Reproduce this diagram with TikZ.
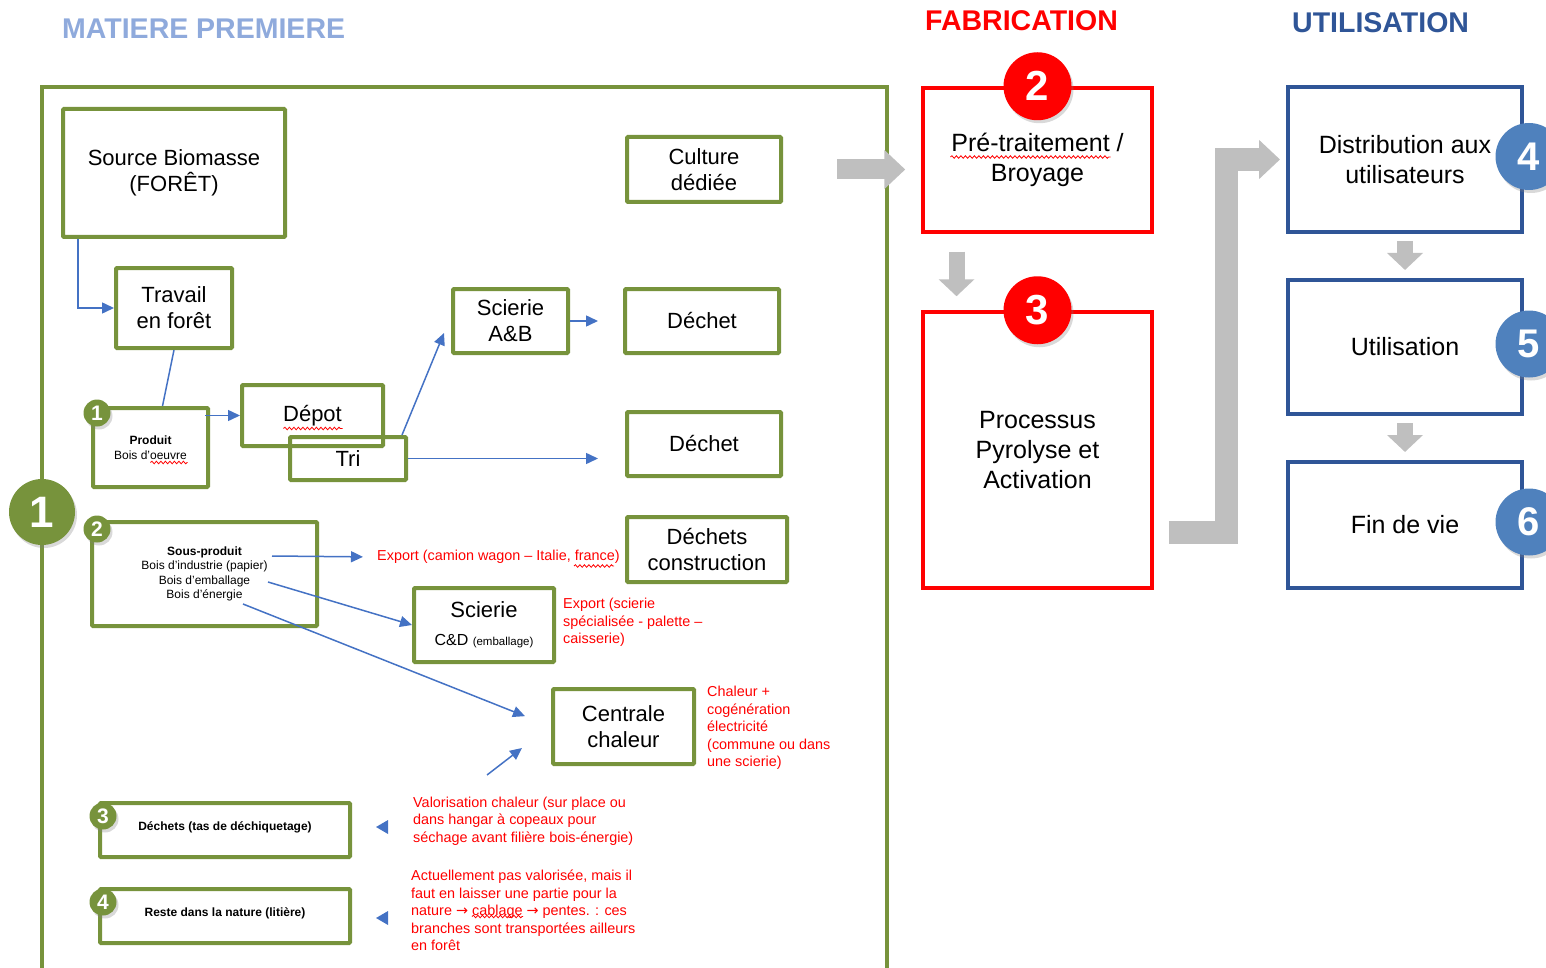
\documentclass[tikz,border=0pt]{standalone}
\usepackage{fontspec}
\setmainfont{Liberation Sans}
\newfontfamily\arrowfont{DejaVu Sans}
\usepackage{xcolor}
\usetikzlibrary{arrows.meta,shapes.geometric,shadows,positioning,decorations.pathmorphing}

\definecolor{woodgreen}{RGB}{119,147,60}
\definecolor{flowblue}{RGB}{68,114,196}
\definecolor{usered}{RGB}{255,0,0}
\definecolor{usenavy}{RGB}{47,85,151}
\definecolor{usesky}{RGB}{79,129,189}
\definecolor{headsky}{RGB}{143,170,220}
\definecolor{arrowgrey}{RGB}{191,191,191}

\begin{document}
\begin{tikzpicture}[
            x=1pt, y=-1pt,
            green box/.style={
                    draw=woodgreen,
                    line width=4pt,
                    rounded corners=1pt,
                    inner sep=0pt,
                    align=center,
                    font=\fontsize{22}{26}\selectfont
                },
            red box/.style={
                    draw=usered,
                    line width=3.5pt,
                    inner sep=0pt,
                    minimum width=229pt,
                    align=center,
                    font=\fontsize{25}{30}\selectfont
                },
            blue box/.style={
                    draw=usenavy,
                    line width=4pt,
                    inner sep=0pt,
                    minimum width=234pt,
                    align=center,
                    font=\fontsize{25}{30}\selectfont
                },
            number disc/.style={
                    circle,
                    inner sep=0pt,
                    text=white,
                    drop shadow={shadow xshift=2pt, shadow yshift=-3pt, opacity=0.3}
                },
            red number/.style={
                    number disc,
                    fill=usered,
                    minimum size=68pt,
                    font=\bfseries\fontsize{42}{42}\selectfont
                },
            blue number/.style={
                    number disc,
                    fill=usesky,
                    minimum size=67pt,
                    font=\bfseries\fontsize{40}{40}\selectfont
                },
            green number/.style={
                    number disc,
                    fill=woodgreen,
                    minimum size=66pt,
                    font=\bfseries\fontsize{44}{44}\selectfont
                },
            small number/.style={
                    number disc,
                    fill=woodgreen,
                    minimum size=27pt,
                    font=\bfseries\fontsize{21}{21}\selectfont
                },
            flow/.style={
                    draw=flowblue,
                    line width=1.5pt,
                    -{Triangle[width=11pt,length=12pt]}
                },
            link/.style={
                    draw=flowblue,
                    line width=1.5pt
                },
            left head/.style={
                    isosceles triangle,
                    isosceles triangle stretches,
                    shape border rotate=180,
                    fill=flowblue,
                    inner sep=0pt,
                    minimum height=12pt,
                    minimum width=14pt
                },
            grey arrow/.style={
                    draw=arrowgrey,
                    line width=20pt,
                    -{Triangle[width=38pt,length=21pt]}
                },
            grey arrow small/.style={
                    draw=arrowgrey,
                    line width=16pt,
                    -{Triangle[width=35pt,length=17pt]}
                },
            side note/.style={
                    text=usered,
                    anchor=west,
                    align=left,
                    inner sep=0pt,
                    font=\fontsize{14.4}{17.4}\selectfont
                },
            panel title/.style={
                    anchor=west,
                    inner sep=0pt,
                    font=\bfseries\fontsize{28.5}{28.5}\selectfont
                },
            spell mark/.style={
                    draw=red,
                    line width=0.8pt,
                    decorate,
                    decoration={snake, amplitude=1.3pt, segment length=4.5pt}
                }
        ]
        \useasboundingbox (0,0) rectangle (1546,968);

        % Titles
        \node[panel title, text=headsky] (t-mat) at (62,29) {MATIERE PREMIERE};
        \node[panel title, text=usered] (t-fab) at (925,21) {FABRICATION};
        \node[panel title, text=usenavy] (t-use) at (1292,23) {UTILISATION};

        % Raw material frame
        \draw[woodgreen, line width=3.5pt] (42,87) rectangle (887,990);

        % Raw material boxes
        \node[green box, minimum width=222pt, minimum height=128pt] (src) at (174,173) {Source Biomasse\\(FORÊT)};
        \node[green box, minimum width=116pt, minimum height=80pt] (trav) at (174,308) {Travail\\en forêt};
        \node[green box, minimum width=154pt, minimum height=65pt] (cult) at (704,169.5) {Culture\\dédiée};
        \node[green box, minimum width=115pt, minimum height=64pt] (sab) at (510.5,321) {Scierie\\A\&B};
        \node[green box, minimum width=154pt, minimum height=64pt] (dech1) at (702,321) {Déchet};
        \node[green box, minimum width=154pt, minimum height=64pt] (dech2) at (704,444) {Déchet};
        \node[green box, minimum width=141pt, minimum height=61pt] (dep) at (312.5,415.5) {Dépot};
        \node[green box, minimum width=116pt, minimum height=43pt] (tri) at (348,458.5) {Tri};
        \node[green box, minimum width=115pt, minimum height=79pt, font=\fontsize{12}{15}\selectfont] (prod) at (150.5,447.5) {\textbf{Produit}\\Bois d’oeuvre};
        \node[green box, minimum width=225pt, minimum height=104pt, font=\fontsize{12}{14.3}\selectfont] (sp) at (204.5,574) {\textbf{Sous-produit}\\Bois d’industrie (papier)\\Bois d’emballage\\Bois d’énergie};
        \node[green box, minimum width=160pt, minimum height=65pt] (dc) at (707,549.5) {Déchets\\construction};
        \node[green box, minimum width=140pt, minimum height=74pt, font=\fontsize{22}{28}\selectfont] (scd) at (484,625) {Scierie\\{\fontsize{16}{20}\selectfont C\&D \fontsize{11.5}{14}\selectfont(emballage)}};
        \node[green box, minimum width=141pt, minimum height=75pt] (cc) at (623.5,726.5) {Centrale\\chaleur};
        \node[green box, minimum width=250pt, minimum height=54pt, font=\bfseries\fontsize{12}{14}\selectfont] (dtas) at (225,830) {\raisebox{7pt}{Déchets (tas de déchiquetage)}};
        \node[green box, minimum width=250pt, minimum height=54pt, font=\bfseries\fontsize{12}{14}\selectfont] (reste) at (225,916) {\raisebox{7pt}{Reste dans la nature (litière)}};

        % Red notes
        \node[side note] (exp1) at (377,557) {Export (camion wagon – Italie, france)};
        \node[side note] (exp2) at (563,622.5) {Export (scierie\\spécialisée - palette –\\caisserie)};
        \node[side note] (chal) at (707,728) {Chaleur +\\cogénération\\électricité\\(commune ou dans\\une scierie)};
        \node[side note] (valo) at (413,821) {Valorisation chaleur (sur place ou\\dans hangar à copeaux pour\\séchage avant filière bois-énergie)};
        \node[side note] (act) at (411,910.5) {Actuellement pas valorisée, mais il\\faut en laisser une partie pour la\\nature {\arrowfont →} cablage {\arrowfont →} pentes. : ces\\branches sont transportées ailleurs\\en forêt};
        \node[left head] (h3) at (384,827) {};
        \node[left head] (h4) at (384,918) {};

        % Blue connections
        \coordinate (sp-a) at (272,556);
        \coordinate (sp-b) at (268,582);
        \coordinate (sp-c) at (243,604);
        \coordinate (cc-in) at (487,775);
        \draw[flow] ([xshift=17pt]src.south west) |- (trav.west);
        \draw[link] (trav.south) -- ([xshift=12pt]prod.north);
        \draw[flow] ([xshift=-5pt]prod.east |- dep.west) -- (dep.west);
        \draw[flow] ([xshift=-6pt]tri.north east) -- ([xshift=-7pt,yshift=22pt]sab.south west);
        \draw[flow, shorten >=25pt] (sab.east) -- (dech1.west);
        \draw[flow, shorten >=27pt] (tri.east) -- (tri.east -| dech2.west);
        \draw[flow, shorten >=14pt] (sp-a) -- (exp1.west);
        \draw[flow] (sp-b) -- (scd.west);
        \draw[flow, shorten >=28pt] (sp-c) -- (cc.west);
        \draw[flow] (cc-in) -- ([xshift=-29pt,yshift=-21.5pt]cc.west);

        % Fabrication
        \node[red box, minimum height=144pt] (pre) at (1037.5,160) {Pré-traitement /\\Broyage};
        \node[red box, minimum height=276pt] (proc) at (1037.5,450) {Processus\\Pyrolyse et\\Activation};

        % Utilisation
        \node[blue box, minimum height=145pt] (dist) at (1405,159.5) {Distribution aux\\utilisateurs};
        \node[blue box, minimum height=134pt] (util) at (1405,347) {Utilisation};
        \node[blue box, minimum height=126pt] (fin) at (1405,525) {Fin de vie};

        % Spelling marks
        \draw[spell mark] ([xshift=-29pt,yshift=-13pt]dep.center) -- ([xshift=30pt,yshift=-13pt]dep.center);
        \draw[spell mark] ([xshift=0pt,yshift=-15pt]prod.center) -- ([xshift=37pt,yshift=-15pt]prod.center);
        \draw[spell mark] ([xshift=197pt,yshift=-9pt]exp1.west) -- ([xshift=237pt,yshift=-9pt]exp1.west);
        \draw[spell mark] ([xshift=-87pt,yshift=3pt]pre.center) -- ([xshift=73pt,yshift=3pt]pre.center);
        \draw[spell mark] ([xshift=61pt,yshift=-6pt]act.west) -- ([xshift=112pt,yshift=-6pt]act.west);

        % Grey arrows
        \draw[grey arrow, shorten <=54pt, shorten >=16pt] (cult.east) -- (cult.east -| pre.west);
        \draw[grey arrow small, shorten <=18pt, shorten >=14pt] ([xshift=-81pt]pre.south) -- ([xshift=-81pt]proc.north);
        \draw[grey arrow, line width=23pt, line join=miter] ([xshift=15pt,yshift=-82pt]proc.east) -| ([xshift=-59.5pt]dist.west) -- ([xshift=-6pt]dist.west);
        \foreach \a/\b in {dist/util, util/fin} {
                \draw[grey arrow small, shorten <=7pt, shorten >=8pt] (\a.south) -- (\b.north);
            }

        % Numbers
        \node[green number] (num-1) at (42,512) {1};
        \node[small number] (sn-1) at ([xshift=6pt,yshift=-7pt]prod.north west) {1};
        \node[small number] (sn-2) at ([xshift=7pt,yshift=-9pt]sp.north west) {2};
        \node[small number] (sn-3) at ([xshift=5pt,yshift=-15pt]dtas.north west) {3};
        \node[small number] (sn-4) at ([xshift=5pt,yshift=-15pt]reste.north west) {4};
        \node[red number] (num-2) at (pre.north) {2};
        \node[red number] (num-3) at (proc.north) {3};
        \foreach \b/\n in {dist/4, util/5, fin/6} {
                \node[blue number] (num-\n) at ([xshift=5pt,yshift=3pt]\b.east) {\n};
            }

    \end{tikzpicture}
\end{document}
